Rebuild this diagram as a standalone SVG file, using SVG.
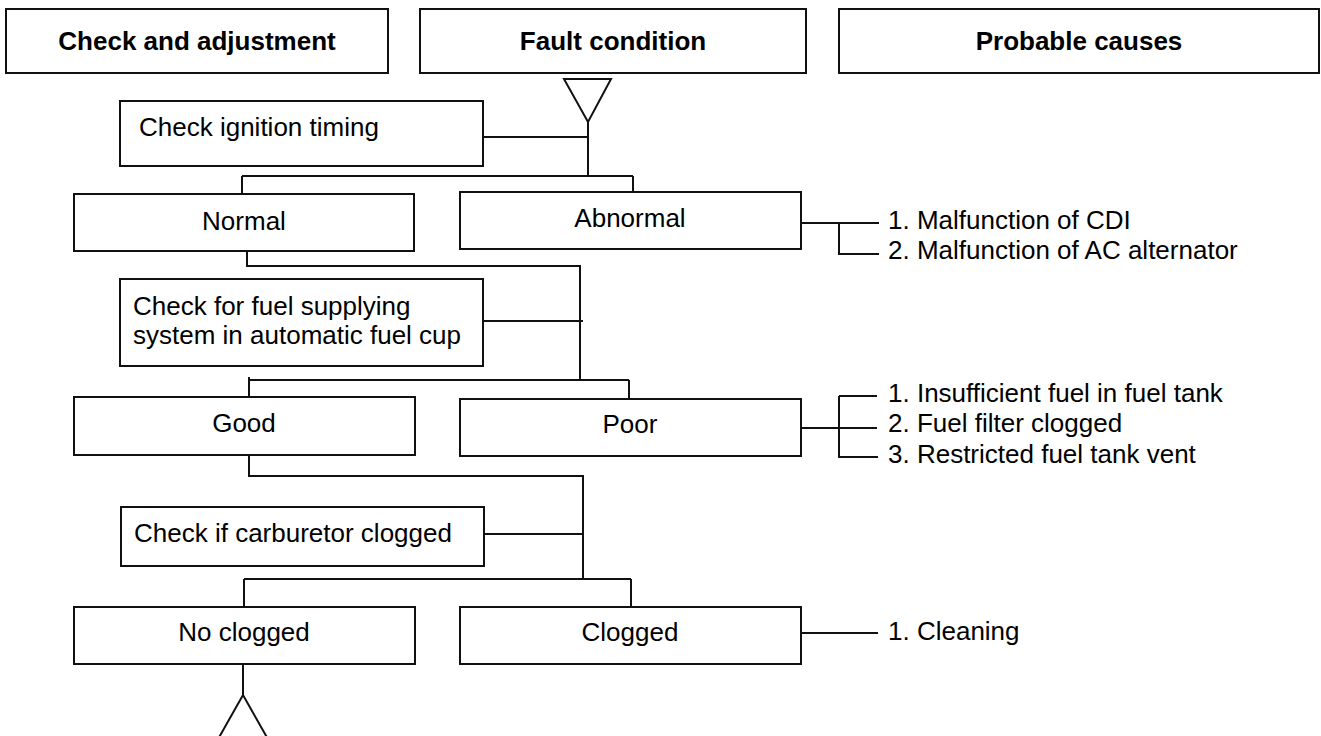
<svg xmlns="http://www.w3.org/2000/svg" width="1321" height="736" viewBox="0 0 1321 736">
<style>
.box{fill:#fff;stroke:#111;stroke-width:2}
.ln{fill:none;stroke:#111;stroke-width:2}
.hd{font-family:"Liberation Sans",Arial,sans-serif;font-size:26px;font-weight:bold;fill:#000;text-anchor:middle}
.t{font-family:"Liberation Sans",Arial,sans-serif;font-size:26px;fill:#000}
.c{text-anchor:middle}
</style>
<rect width="1321" height="736" fill="#fff"/>
<g id="connectors">
<path class="ln" d="M588,122 V176 M483,137 H588 M242,176 H633 M242,176 V194 M633,176 V192"/>
<path class="ln" d="M801,223 H879 M839,223 V254 H879"/>
<path class="ln" d="M247,251 V266 H580 V380 M483,321 H583 M249,380 H629 M249,377 V397 M629,380 V399"/>
<path class="ln" d="M839,396 H877 M839,396 V457 H878 M801,428 H877"/>
<path class="ln" d="M249,455 V476 H583 V579 M484,534 H583 M244,579 H631 M244,579 V607 M631,579 V607"/>
<path class="ln" d="M801,633 H878"/>
<path class="ln" d="M243,664 V695 M217,741 L243,695 L269,741"/>
</g>
<g id="hdr-check"><rect class="box" x="6" y="9" width="382" height="64"/><text class="hd" x="197" y="50">Check and adjustment</text></g>
<g id="hdr-fault"><rect class="box" x="420" y="9" width="386" height="64"/><text class="hd" x="613" y="50">Fault condition</text></g>
<g id="hdr-causes"><rect class="box" x="839" y="9" width="480" height="64"/><text class="hd" x="1079" y="50">Probable causes</text></g>
<g id="start-triangle"><polygon class="box" points="564,79 611,79 588,122"/></g>
<g id="check-ignition"><rect class="box" x="120" y="101" width="363" height="65"/><text class="t" x="139" y="136">Check ignition timing</text></g>
<g id="normal"><rect class="box" x="74" y="194" width="340" height="57"/><text class="t c" x="244" y="230">Normal</text></g>
<g id="abnormal"><rect class="box" x="460" y="192" width="341" height="57"/><text class="t c" x="630" y="227">Abnormal</text></g>
<g id="causes-ignition"><text class="t" x="888" y="229">1. Malfunction of CDI</text><text class="t" x="888" y="259">2. Malfunction of AC alternator</text></g>
<g id="check-fuel"><rect class="box" x="120" y="279" width="363" height="87"/><text class="t" x="133" y="315">Check for fuel supplying</text><text class="t" x="133" y="344">system in automatic fuel cup</text></g>
<g id="good"><rect class="box" x="74" y="397" width="341" height="58"/><text class="t c" x="244" y="432">Good</text></g>
<g id="poor"><rect class="box" x="460" y="399" width="341" height="57"/><text class="t c" x="630" y="433">Poor</text></g>
<g id="causes-fuel"><text class="t" x="888" y="402">1. Insufficient fuel in fuel tank</text><text class="t" x="888" y="432">2. Fuel filter clogged</text><text class="t" x="888" y="463">3. Restricted fuel tank vent</text></g>
<g id="check-carb"><rect class="box" x="121" y="507" width="363" height="59"/><text class="t" x="134" y="542">Check if carburetor clogged</text></g>
<g id="no-clogged"><rect class="box" x="74" y="607" width="341" height="57"/><text class="t c" x="244" y="641">No clogged</text></g>
<g id="clogged"><rect class="box" x="460" y="607" width="341" height="57"/><text class="t c" x="630" y="641">Clogged</text></g>
<g id="causes-carb"><text class="t" x="888" y="640">1. Cleaning</text></g>
</svg>
